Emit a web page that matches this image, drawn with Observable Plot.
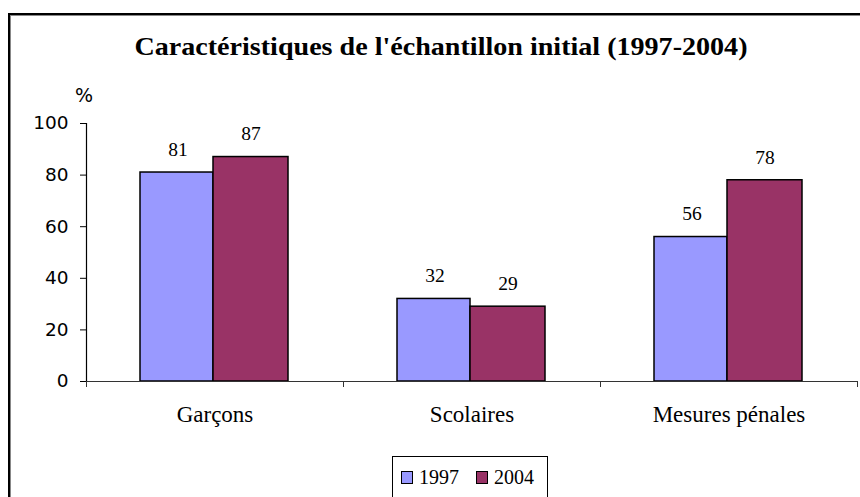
<!DOCTYPE html>
<html>
<head>
<meta charset="utf-8">
<script src="https://cdn.jsdelivr.net/npm/d3@7"></script>
<script src="https://cdn.jsdelivr.net/npm/@observablehq/plot@0.6"></script>
<style>
  html, body { margin: 0; padding: 0; width: 860px; height: 497px; overflow: hidden; background: #fff; }
  #wrap { position: relative; width: 860px; height: 497px; }
  #border { position: absolute; left: 8px; top: 13px; width: 900px; height: 600px;
            border-top: 2px solid #000; border-left: 2px solid #000;
            box-shadow: inset 1px 1px 0 #888; }
  #title { position: absolute; left: 0; width: 882px; top: 32px; text-align: center;
           font: bold 26px "Liberation Serif", "Times New Roman", serif; color: #000; white-space: nowrap;
           transform: scaleX(1.08); transform-origin: 441px 0; }
  #pct { position: absolute; left: 75px; top: 84px; font: 19px "DejaVu Sans", sans-serif; }
  #chart { position: absolute; left: 0; top: 100px; }
  #legend { position: absolute; left: 392px; top: 456px; width: 154px; height: 60px;
            border: 1px solid #000; font: 20px "Liberation Serif", "Times New Roman", serif; }
  .item { position: absolute; top: 9px; display: flex; align-items: center; }
  .sw { width: 10px; height: 11px; border: 1.5px solid #000; margin-right: 6px; }
</style>
</head>
<body>
<div id="wrap">
  <div id="border"></div>
  <div id="title">Caractéristiques de l'échantillon initial (1997-2004)</div>
  <div id="pct">%</div>
  <div id="chart"></div>
  <div id="legend"></div>
</div>
<script>
const categories = ["Garçons", "Scolaires", "Mesures pénales"];
const years = ["1997", "2004"];
const values1997 = [81, 32, 56];
const values2004 = [87, 29, 78];
const yTicks = [0, 20, 40, 60, 80, 100];
const colors = ["#9999FF", "#993366"];

const d1997 = categories.map((c, i) => ({category: c, value: values1997[i]}));
const d2004 = categories.map((c, i) => ({category: c, value: values2004[i]}));

const serif = "'Liberation Serif', 'Times New Roman', serif";
const sans = "'DejaVu Sans', sans-serif";

const chart = Plot.plot({
  width: 860,
  height: 340,
  marginLeft: 86,
  marginRight: 3,
  marginTop: 23,
  marginBottom: 59,
  style: {background: "transparent", overflow: "visible"},
  x: {domain: categories, padding: 0},
  y: {domain: [0, 100]},
  marks: [
    Plot.barY(d1997, {x: "category", y: "value", fill: colors[0], stroke: "#000", strokeWidth: 1.5,
                      insetLeft: 54, insetRight: 130}),
    Plot.barY(d2004, {x: "category", y: "value", fill: colors[1], stroke: "#000", strokeWidth: 1.5,
                      insetLeft: 127, insetRight: 55}),
    Plot.text(d1997, {x: "category", y: "value", text: d => String(d.value), dx: -37, dy: -23,
                      fontSize: 19.5, fontFamily: serif, fill: "#000", lineAnchor: "middle"}),
    Plot.text(d2004, {x: "category", y: "value", text: d => String(d.value), dx: 36, dy: -23,
                      fontSize: 19.5, fontFamily: serif, fill: "#000", lineAnchor: "middle"}),
    Plot.ruleY([0], {stroke: "#333", strokeWidth: 1.2}),
    Plot.frame({anchor: "left", stroke: "#000", strokeWidth: 1.2}),
    Plot.ruleX(categories, {x: d => d, y1: 0, y2: 0, insetBottom: -6, dx: -128.5, stroke: "#333"}),
    Plot.ruleX(categories.slice(-1), {x: d => d, y1: 0, y2: 0, insetBottom: -6, dx: 128.5, stroke: "#333"}),
    Plot.axisY({ticks: yTicks, tickSize: 6, tickPadding: 12, fontSize: 18.5, fontFamily: sans,
                label: null, stroke: "#000"}),
    Plot.axisX({tickSize: 0, tickPadding: 24, fontSize: 23, fontFamily: serif, label: null})
  ]
});
document.getElementById("chart").appendChild(chart);

const legend = document.getElementById("legend");
const xs = [8, 83];
years.forEach((y, i) => {
  const it = document.createElement("div");
  it.className = "item";
  it.style.left = xs[i] + "px";
  const sw = document.createElement("div");
  sw.className = "sw";
  sw.style.background = colors[i];
  const t = document.createElement("span");
  t.textContent = y;
  it.appendChild(sw);
  it.appendChild(t);
  legend.appendChild(it);
});
</script>
</body>
</html>
